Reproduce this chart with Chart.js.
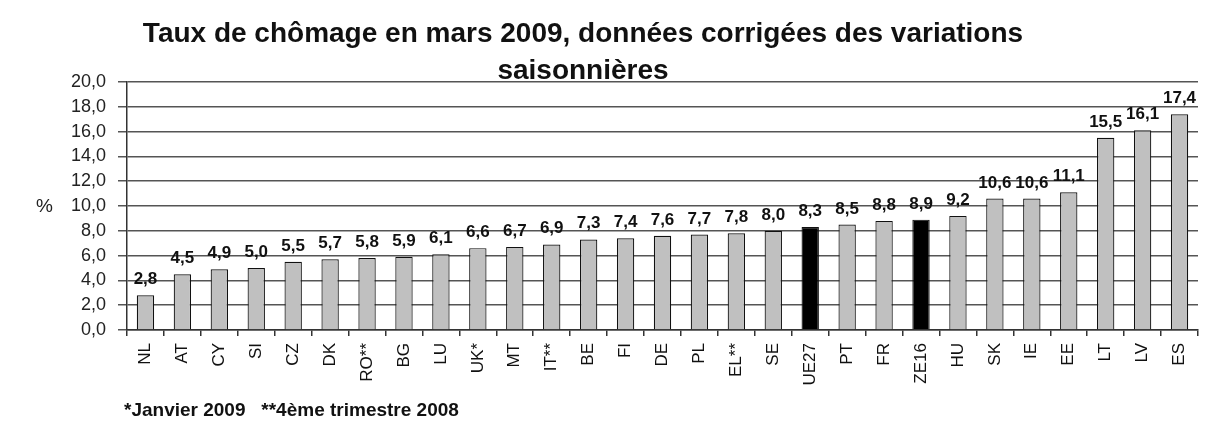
<!DOCTYPE html>
<html><head><meta charset="utf-8">
<script src="https://cdn.jsdelivr.net/npm/chart.js@4/dist/chart.umd.min.js"></script>
<style>html,body{margin:0;padding:0;background:#fff;}#wrap{width:1209px;height:423px;}</style>
</head><body><div id="wrap"><canvas id="c" width="1209" height="423"></canvas></div>
<script>
const categories = ["NL","AT","CY","SI","CZ","DK","RO**","BG","LU","UK*","MT","IT**","BE","FI","DE","PL","EL**","SE","UE27","PT","FR","ZE16","HU","SK","IE","EE","LT","LV","ES"];
const rates = [2.8,4.5,4.9,5.0,5.5,5.7,5.8,5.9,6.1,6.6,6.7,6.9,7.3,7.4,7.6,7.7,7.8,8.0,8.3,8.5,8.8,8.9,9.2,10.6,10.6,11.1,15.5,16.1,17.4];
const highlighted = ["UE27","ZE16"];
const yTicks = [0,2,4,6,8,10,12,14,16,18,20];
const titleLines = ["Taux de chômage en mars 2009, données corrigées des variations","saisonnières"];
const yUnit = "%";
const footnote = "*Janvier 2009   **4ème trimestre 2008";

const fmt = v => v.toFixed(1).replace('.', ',');
const FONT = "'Liberation Sans', Arial, sans-serif";

const textPlugin = {
  id: 'texts',
  afterDatasetsDraw(chart) {
    const ctx = chart.ctx;
    const meta = chart.getDatasetMeta(0);
    ctx.save();
    ctx.fillStyle = '#111';
    ctx.font = "bold 17px " + FONT;
    ctx.textAlign = 'center';
    ctx.textBaseline = 'alphabetic';
    meta.data.forEach((bar, i) => {
      ctx.fillText(fmt(rates[i]), bar.x, bar.y - 11);
    });
    ctx.restore();
  },
  afterDraw(chart) {
    const ctx = chart.ctx;
    const y = chart.scales.y;
    ctx.save();
    ctx.fillStyle = '#111';
    ctx.font = "bold 28px " + FONT;
    ctx.textAlign = 'center';
    ctx.textBaseline = 'alphabetic';
    ctx.fillText(titleLines[0], 583, 42);
    ctx.fillText(titleLines[1], 583, 79);
    ctx.font = "19px " + FONT;
    ctx.fillStyle = '#222';
    ctx.textAlign = 'left';
    ctx.textBaseline = 'middle';
    ctx.fillText(yUnit, 36, y.getPixelForValue(10) + 1);
    ctx.font = "bold 19px " + FONT;
    ctx.fillStyle = '#111';
    ctx.textBaseline = 'alphabetic';
    ctx.fillText(footnote, 124, 416);
    ctx.restore();
  }
};

new Chart(document.getElementById('c'), {
  type: 'bar',
  data: {
    labels: categories,
    datasets: [{
      data: rates,
      backgroundColor: categories.map(c => highlighted.includes(c) ? '#000' : '#c0c0c0'),
      borderColor: '#111',
      borderWidth: 1.2,
      barPercentage: 0.47,
      categoryPercentage: 1
    }]
  },
  options: {
    responsive: false,
    animation: false,
    devicePixelRatio: 1,
    layout: { padding: { top: 82, right: 11, left: 0, bottom: 0 } },
    plugins: { legend: { display: false }, tooltip: { enabled: false }, title: { display: false } },
    scales: {
      x: {
        afterFit: s => { s.height = 93; },
        border: { color: '#333', width: 1.5 },
        grid: { drawOnChartArea: false, drawTicks: true, tickLength: 6, color: '#333', lineWidth: 1.5, offset: true },
        ticks: { maxRotation: 90, minRotation: 90, autoSkip: false, padding: 7, color: '#111', font: { family: FONT, size: 17 } }
      },
      y: {
        min: 0, max: 20,
        afterFit: s => { s.width = 127; },
        afterBuildTicks: s => { s.ticks = yTicks.map(v => ({ value: v })); },
        border: { color: '#333', width: 1.5 },
        grid: { color: '#555', lineWidth: 1.5, drawTicks: true, tickLength: 9 },
        ticks: { autoSkip: false, padding: 12, color: '#222', font: { family: FONT, size: 18 }, callback: v => fmt(v) }
      }
    }
  },
  plugins: [textPlugin]
});
</script>
</body></html>
